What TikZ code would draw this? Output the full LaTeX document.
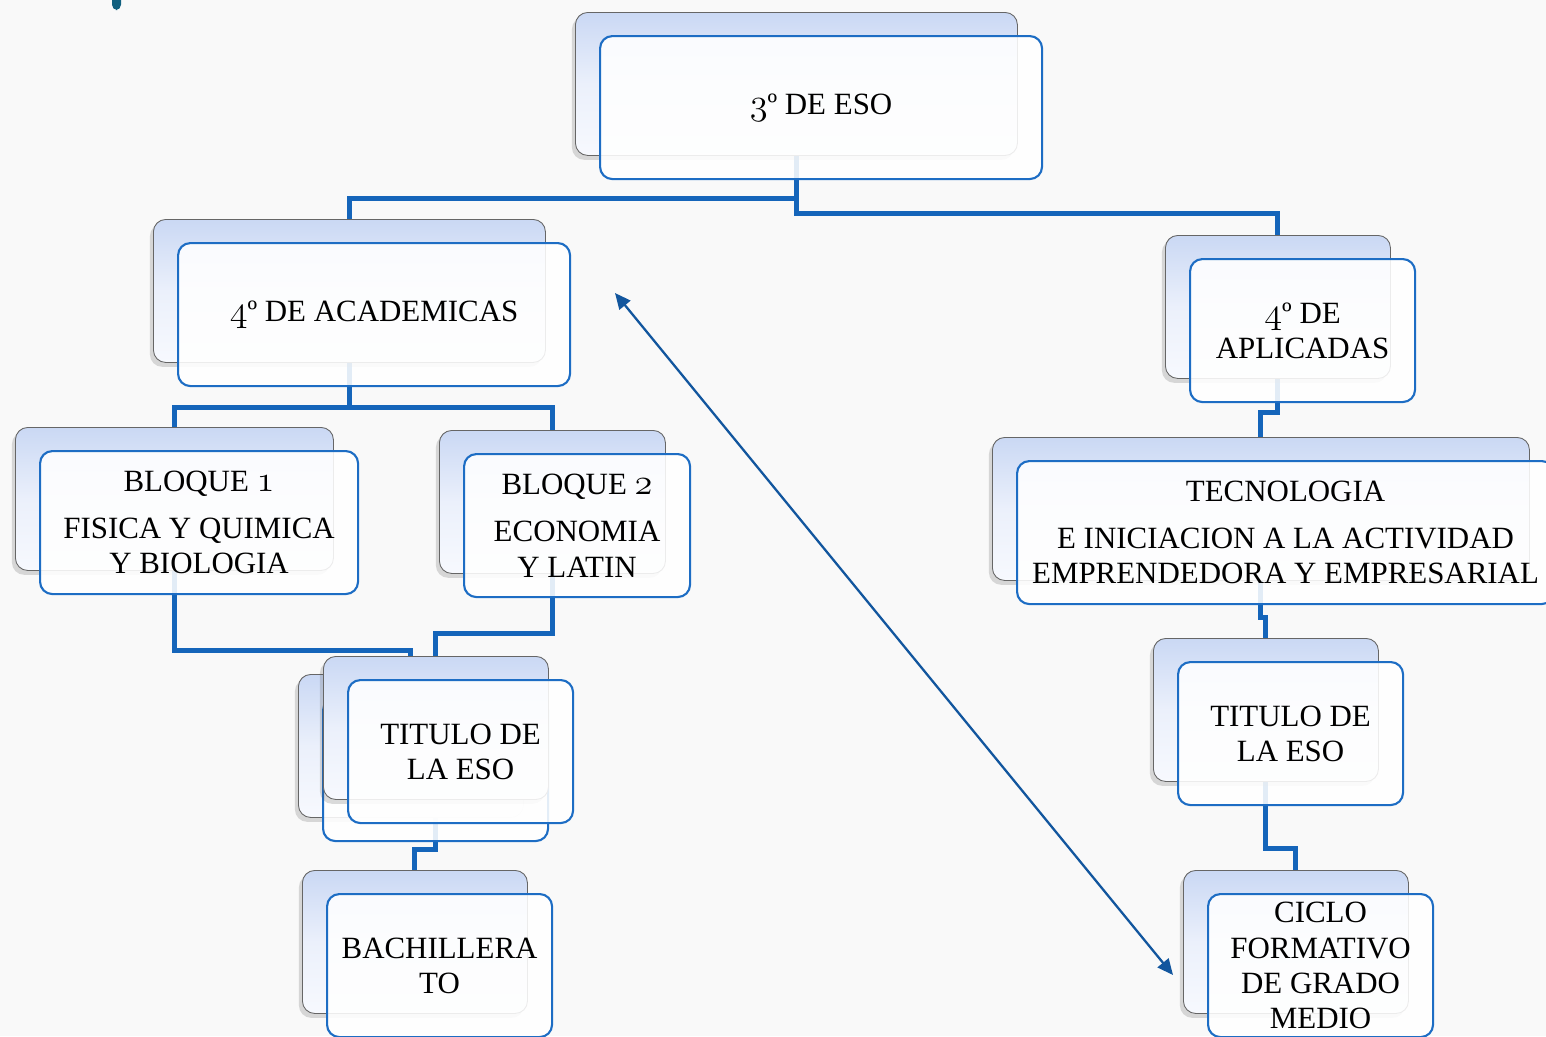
\documentclass[tikz,border=0pt]{standalone}
\usepackage{fontspec}
\setmainfont{Liberation Serif}
\usetikzlibrary{shadows,arrows.meta}
\definecolor{bgc}{HTML}{F9F9F9}
\definecolor{conn}{HTML}{1565BA}
\definecolor{fborder}{HTML}{1D6DC4}
\definecolor{btop}{HTML}{CAD8F4}
\definecolor{bmid}{HTML}{EBF0FB}
\definecolor{bbot}{HTML}{F7F9FE}
\definecolor{arrowc}{HTML}{12569E}
\definecolor{tealc}{HTML}{11607F}
\pgfdeclarelayer{background}
\pgfdeclarelayer{links}
\pgfsetlayers{background,links,main}
\newcommand\osn[1]{{\fontsize{20}{20}\usefont{OML}{cmm}{m}{it}#1}}
\tikzset{
 backbox/.style={rectangle, rounded corners=7pt, draw=black!60, line width=0.5pt,
   top color=btop, bottom color=bbot, middle color=bmid,
   drop shadow={shadow xshift=-2pt, shadow yshift=-2.5pt, opacity=0.2, fill=black!70},
   inner sep=0pt, anchor=north west, minimum height=143*0.02cm},
 frontbox/.style={rectangle, rounded corners=7pt, draw=fborder, line width=1.2pt,
   fill=white, fill opacity=0.88, text opacity=1, inner sep=0pt, anchor=north west,
   minimum height=143*0.02cm, align=center, font=\fontsize{17.6}{20}\selectfont},
 link/.style={draw=conn, line width=2.8pt, line join=miter},
 bothway/.style={draw=arrowc, line width=1.3pt,
   {Triangle[length=9pt,width=8pt,fill=arrowc]}-{Triangle[length=9pt,width=8pt,fill=arrowc]}},
}
\newcommand\twobox[5]{%
 \node[backbox, minimum width=#4*0.02cm] (#1-b) at (#2,#3) {};
 \node[frontbox, minimum width=#4*0.02cm] (#1) at (#2+24,#3+23) {#5};
}
\begin{document}
\begin{tikzpicture}[x=0.02cm, y=-0.02cm]
\useasboundingbox (0,0) rectangle (1546,1036);
\clip (0,0) rectangle (1546,1036);
\begin{pgfonlayer}{background}
\fill[bgc] (0,0) rectangle (1546,1036);
\fill[tealc, rounded corners=3pt] (112,-10) rectangle (121,10);
\end{pgfonlayer}

\twobox{eso}{575}{12}{442}{\osn{3}º DE ESO}
\twobox{acad}{153}{219}{392}{\osn{4}º DE ACADEMICAS}
\twobox{apl}{1165}{235}{225}{\osn{4}º DE\\APLICADAS}
\twobox{bqa}{15}{427}{318}{BLOQUE \osn{1}\\[7pt]FISICA Y QUIMICA\\Y BIOLOGIA}
\twobox{bqb}{439}{430}{226}{BLOQUE \osn{2}\\[7pt]ECONOMIA\\Y LATIN}
\twobox{tecn}{992}{437}{537}{TECNOLOGIA\\[7pt]E INICIACION A LA ACTIVIDAD\\EMPRENDEDORA Y EMPRESARIAL}
\twobox{titA}{298}{674}{225}{}
\twobox{titB}{323}{656}{225}{TITULO DE\\LA ESO}
\twobox{bach}{302}{870}{225}{BACHILLERA\\TO}
\twobox{titR}{1153}{638}{225}{TITULO DE\\LA ESO}
\twobox{ciclo}{1183}{870}{225}{CICLO\\FORMATIVO\\DE GRADO\\MEDIO}

\begin{pgfonlayer}{links}
\draw[link] (eso-b.south) -- ++(0,43) -| (acad-b.north);
\draw[link] (eso-b.south) -- ++(0,58) -| (apl-b.north);
\draw[link] (acad-b.south) -- ++(0,45) -| (bqa-b.north);
\draw[link] (acad-b.south) -- ++(0,45) -| (bqb-b.north);
\draw[link] (bqa-b.south) -- ++(0,80) -| (titA-b.north);
\draw[link] (bqb-b.south) -- ++(0,60) -| (titB-b.north);
\draw[link] (titB-b.south) -- ++(0,50) -| (bach-b.north);
\draw[link] (apl-b.south) -- ++(0,34) -| (tecn-b.north);
\draw[link] (tecn-b.south) -- ++(0,37) -| (titR-b.north);
\draw[link] (titR-b.south) -- ++(0,67) -| (ciclo-b.north);
\end{pgfonlayer}

\coordinate (arrA) at (615,293);
\coordinate (arrB) at (1173,975);
\draw[bothway] (arrA) -- (arrB);
\end{tikzpicture}
\end{document}
